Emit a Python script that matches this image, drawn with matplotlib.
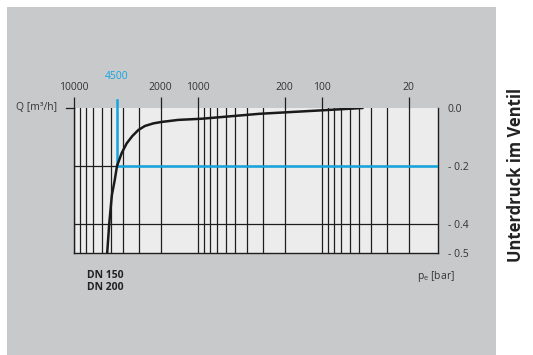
import matplotlib

matplotlib.use("Agg")
import matplotlib.pyplot as plt
from matplotlib.patches import Rectangle
from matplotlib.ticker import FixedLocator, NullFormatter

# flow rate Q [m3/h] vs. underpressure in valve p_e [bar]
flow = [5400, 5200, 4950, 4700, 4500, 4130, 3760, 3390, 3030, 2680, 2290, 1960, 1440, 930, 320, 100, 47]
pressure = [0.5, 0.4, 0.3, 0.25, 0.2, 0.156, 0.122, 0.097, 0.076, 0.062, 0.053, 0.048, 0.041, 0.037, 0.02, 0.008, 0.0]

x_ticks = [10000, 2000, 1000, 200, 100, 20]
x_labels = ["10000", "2000", "1000", "200", "100", "20"]
grid_x = [m * d for d in (10, 100, 1000) for m in range(2, 10)] + [1000, 100, 10000]
y_ticks = [0.0, 0.2, 0.4, 0.5]
y_labels = ["0.0", "- 0.2", "- 0.4", "- 0.5"]
mark_flow = 4500
mark_pressure = 0.2
x_range = (10000, 11.6)

plt.rcParams["font.family"] = ["Open Sans", "DejaVu Sans"]
plt.rcParams["mathtext.fontset"] = "custom"
plt.rcParams["mathtext.rm"] = "Open Sans"

TEXT = "#333333"
BLUE = "#14a5e0"
GRID = "#1e1e1e"

fig = plt.figure(figsize=(5.33, 3.55), dpi=100)
fig.patch.set_facecolor("white")
fig.patches.append(Rectangle((7 / 533, 0), 489 / 533, 348 / 355, transform=fig.transFigure,
                             facecolor="#c8c9cb", edgecolor="none", zorder=-10))

ax = fig.add_axes([74 / 533, 102 / 355, 364 / 533, 145 / 355])
ax.set_facecolor("#ececec")
ax.set_xscale("log")
ax.set_xlim(*x_range)
ax.set_ylim(0.5, 0.0)

for gx in grid_x:
    if x_range[1] < gx <= x_range[0]:
        ax.axvline(gx, color=GRID, lw=0.9, zorder=1)
for gy in (0.2, 0.4):
    ax.axhline(gy, color=GRID, lw=0.9, zorder=1)

# blue reading lines
ax.axvline(mark_flow, ymin=1 - mark_pressure / 0.5, ymax=1.055, color=BLUE, lw=1.8,
           clip_on=False, zorder=3)
ax.hlines(mark_pressure, mark_flow, x_range[1], color=BLUE, lw=1.8, zorder=3)

ax.plot(flow, pressure, color="#1a1a1a", lw=1.8, zorder=4, solid_capstyle="round")

# spines
ax.spines["top"].set_visible(False)
for s in ("left", "right", "bottom"):
    ax.spines[s].set_color(GRID)
    ax.spines[s].set_linewidth(1.0)

# top x ticks
ax.xaxis.set_ticks_position("top")
ax.xaxis.set_major_locator(FixedLocator(x_ticks))
ax.xaxis.set_minor_locator(FixedLocator([]))
ax.xaxis.set_minor_formatter(NullFormatter())
ax.set_xticks(x_ticks)
ax.set_xticklabels(x_labels)
ax.tick_params(axis="x", which="major", direction="out", length=8, width=0.9,
               color=GRID, labelsize=7.5, labelcolor=TEXT, pad=2.5)
ax.text(mark_flow, 1.22, str(mark_flow), transform=ax.get_xaxis_transform(),
        color=BLUE, fontsize=7.5, ha="center", va="center")

# right y labels
ax.yaxis.set_ticks_position("right")
ax.set_yticks(y_ticks)
ax.set_yticklabels(y_labels)
ax.tick_params(axis="y", direction="out", length=0, labelsize=7.5, labelcolor=TEXT, pad=7)

# left Q tick
ax.plot([-0.022, 0], [1, 1], transform=ax.transAxes, color=GRID, lw=0.9, clip_on=False)
ax.text(-0.045, 1.0, "Q [m³/h]", transform=ax.transAxes, ha="right", va="center",
        fontsize=7.5, color=TEXT)

fig.text(87 / 533, 1 - 275 / 355, "DN 150", fontsize=7.5, color="#222222",
         fontweight="bold", va="center")
fig.text(87 / 533, 1 - 288 / 355, "DN 200", fontsize=7.5, color="#222222",
         fontweight="bold", va="center")
fig.text(455 / 533, 1 - 276 / 355, r"p$_\mathrm{e}$ [bar]", fontsize=7.5, color=TEXT,
         ha="right", va="center")
fig.text(516 / 533, 1 - 175 / 355, "Unterdruck im Ventil", rotation=90, fontsize=12,
         fontweight="bold", color="#222222", ha="center", va="center")

fig.savefig("out.png", dpi=100)
plt.close(fig)
